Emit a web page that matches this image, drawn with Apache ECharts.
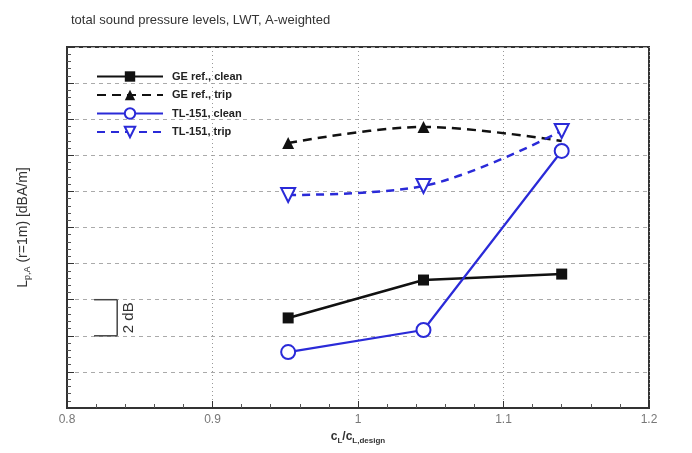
<!DOCTYPE html>
<html>
<head>
<meta charset="utf-8">
<script src="https://cdn.jsdelivr.net/npm/echarts@6/dist/echarts.min.js"></script>
<style>html,body{margin:0;padding:0;background:#fff;}#c{width:692px;height:453px;}</style>
</head>
<body>
<div id="c"></div>
<script>
// x positions (C_L / C_L,design)
const xValues = [0.952, 1.045, 1.14];
// relative sound pressure levels (dB, arbitrary offset; axis is unlabelled)
const geRefClean = [4.99, 7.09, 7.42];
const geRefTrip = [14.68, 15.57, 14.79];
const tl151Clean = [3.10, 4.32, 14.24];
const tl151Trip = [11.80, 12.30, 15.35];
const xTickLabels = ['0.8', '0.9', '1', '1.1', '1.2'];
const seriesNames = ['GE ref., clean', 'GE ref., trip', 'TL-151, clean', 'TL-151, trip'];

const BLUE = '#2a2ad8';
const FONT = 'Liberation Sans, Arial, sans-serif';
const pairs = arr => xValues.map((x, i) => [x, arr[i]]);

const chart = echarts.init(document.getElementById('c'));
chart.setOption({
  animation: false,
  backgroundColor: '#fff',
  title: {
    text: 'total sound pressure levels, LWT, A-weighted',
    left: 66, top: 9,
    textStyle: { fontFamily: FONT, fontSize: 13, fontWeight: 'normal', color: '#333' }
  },
  legend: {
    orient: 'vertical',
    left: 91, top: 65,
    itemWidth: 66, itemHeight: 13, itemGap: 5.5,
    textStyle: { fontFamily: FONT, fontSize: 11, color: '#222', fontWeight: 'bold', lineHeight: 13, padding: [0, 0, 0, 4] },
    data: seriesNames
  },
  grid: { left: 67, right: 43, top: 47, bottom: 45, show: true, borderColor: '#333', borderWidth: 2 },
  xAxis: {
    type: 'value', min: 0.8, max: 1.2, interval: 0.1,
    name: '{a|c}{s|L}{a|/c}{s|L,design}',
    nameLocation: 'middle', nameGap: 20,
    nameTextStyle: {
      rich: {
        a: { fontFamily: FONT, fontSize: 12, color: '#333', fontWeight: 'bold' },
        s: { fontFamily: FONT, fontSize: 8, color: '#333', fontWeight: 'bold', verticalAlign: 'bottom', padding: [8, 0, 0, 0] }
      }
    },
    axisLine: { lineStyle: { color: '#333', width: 2 } },
    axisTick: { inside: true, length: 7, lineStyle: { color: '#333' } },
    minorTick: { show: true, splitNumber: 5, length: 4, lineStyle: { color: '#555' } },
    axisLabel: {
      color: '#777', fontFamily: FONT, fontSize: 12, margin: 6,
      formatter: v => xTickLabels[Math.round((v - 0.8) / 0.1)]
    },
    splitLine: { show: true, lineStyle: { type: [1, 3], color: '#999', width: 1 } }
  },
  yAxis: {
    type: 'value', min: 0, max: 20, interval: 2,
    name: '{a|L}{s|p,A}{a| (r=1m) [dBA/m]}',
    nameLocation: 'middle', nameGap: 35, nameRotate: 90,
    nameTextStyle: {
      rich: {
        a: { fontFamily: FONT, fontSize: 14, color: '#333' },
        s: { fontFamily: FONT, fontSize: 9, color: '#333', verticalAlign: 'bottom', padding: [9, 0, 0, 0] }
      }
    },
    axisLine: { lineStyle: { color: '#333', width: 2 } },
    axisTick: { inside: true, length: 7, lineStyle: { color: '#333' } },
    minorTick: { show: true, splitNumber: 5, length: 4, lineStyle: { color: '#555' } },
    axisLabel: { show: false },
    splitLine: { show: true, lineStyle: { type: [4, 4], color: '#aaa', width: 1 } }
  },
  series: [
    {
      name: seriesNames[1], type: 'line', smooth: 0.35,
      data: pairs(geRefTrip).map((p, i) => i === 2 ? { value: p, symbol: 'none' } : p),
      symbol: 'triangle', symbolSize: 12,
      lineStyle: { color: '#111', width: 2.5, type: [9, 6] },
      itemStyle: { color: '#111' }, z: 2
    },
    {
      name: seriesNames[0], type: 'line', data: pairs(geRefClean),
      symbol: 'rect', symbolSize: 11,
      lineStyle: { color: '#111', width: 2.5 },
      itemStyle: { color: '#111' }, z: 2
    },
    {
      name: seriesNames[3], type: 'line', data: pairs(tl151Trip), smooth: 0.35,
      symbol: 'triangle', symbolRotate: 180, symbolSize: 14,
      lineStyle: { color: BLUE, width: 2.5, type: [8, 6] },
      itemStyle: { color: '#fff', borderColor: BLUE, borderWidth: 2 }, z: 3
    },
    {
      name: seriesNames[2], type: 'line', data: pairs(tl151Clean),
      symbol: 'circle', symbolSize: 14,
      lineStyle: { color: BLUE, width: 2.2 },
      itemStyle: { color: '#fff', borderColor: BLUE, borderWidth: 2 }, z: 3
    }
  ]
});

// "2 dB" scale bracket annotation
const pTop = chart.convertToPixel({ gridIndex: 0 }, [0.8345, 6]);
const pBot = chart.convertToPixel({ gridIndex: 0 }, [0.8345, 4]);
const xLeft = chart.convertToPixel({ gridIndex: 0 }, [0.8186, 4])[0];
const st = { stroke: '#444', lineWidth: 1.5 };
chart.setOption({
  graphic: [
    { type: 'line', shape: { x1: pTop[0], y1: pTop[1], x2: pBot[0], y2: pBot[1] }, style: st, z: 10 },
    { type: 'line', shape: { x1: xLeft, y1: pTop[1], x2: pTop[0], y2: pTop[1] }, style: st, z: 10 },
    { type: 'line', shape: { x1: xLeft, y1: pBot[1], x2: pBot[0], y2: pBot[1] }, style: st, z: 10 },
    {
      type: 'text', x: pTop[0] + 12, y: (pTop[1] + pBot[1]) / 2, rotation: Math.PI / 2,
      style: { text: '2 dB', fontFamily: FONT, fontSize: 15, fill: '#333', align: 'center', verticalAlign: 'middle' },
      z: 10
    }
  ]
});
</script>
</body>
</html>
